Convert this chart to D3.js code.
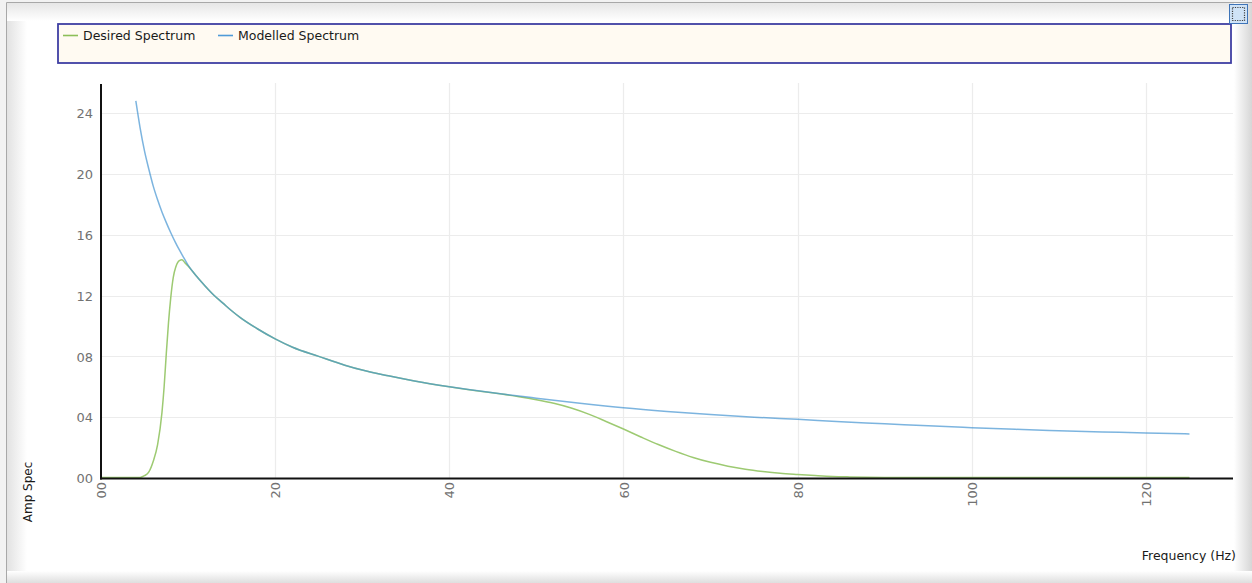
<!DOCTYPE html>
<html>
<head>
<meta charset="utf-8">
<script src="https://cdn.jsdelivr.net/npm/d3@7"></script>
<style>
html,body{margin:0;padding:0;background:#fff;}
svg{display:block;}
</style>
</head>
<body>
<svg id="chart" width="1252" height="583"></svg>
<script>
// ---- data ----
const seriesNames = ["Desired Spectrum", "Modelled Spectrum"];
const seriesColors = ["#9dca72", "#4594d1"];
const legendColors = ["#8cbf58", "#4f9bd8"];

const modelledFreq = [4,4.5,5,5.5,6,6.5,7,7.5,8,8.5,9,9.5,10,11,12,13,14,15,16,18,20,22,25,28,30,33,36,40,45,50,55,60,65,70,75,80,85,90,95,100,105,110,115,120,125];
const modelledAmp  = [24.8,23.0,21.5,20.3,19.2,18.3,17.5,16.8,16.15,15.55,15.0,14.5,14.0,13.25,12.6,12.0,11.5,11.0,10.55,9.8,9.15,8.6,8.0,7.42,7.1,6.72,6.38,6.0,5.6,5.25,4.92,4.62,4.38,4.18,4.0,3.86,3.7,3.57,3.43,3.31,3.2,3.11,3.03,2.96,2.9];

const desiredFreq = [0,1,2,3,4,4.5,5,5.5,6,6.5,7,7.25,7.5,7.75,8,8.3,8.6,9,9.3,9.65,10,11,12,13,14,15,16,18,20,22,25,28,30,33,36,40,44,46,48,50,52,54,56,58,60,62,64,66,68,70,72,74,76,78,80,82,84,86,88,90,100,110,120,125];
const desiredAmp  = [0.03,0.03,0.03,0.03,0.03,0.04,0.15,0.4,1.1,2.2,4.3,6.0,8.2,10.2,11.8,13.2,13.9,14.3,14.35,14.15,13.95,13.25,12.6,12.0,11.5,11.0,10.55,9.8,9.15,8.6,8.0,7.42,7.1,6.72,6.38,6.0,5.67,5.52,5.35,5.15,4.91,4.6,4.2,3.72,3.22,2.7,2.2,1.75,1.35,1.03,0.78,0.58,0.43,0.31,0.23,0.16,0.1,0.07,0.05,0.04,0.03,0.03,0.03,0.03];

const xTickValues = [0,20,40,60,80,100,120];
const xTickLabels = ["00","20","40","60","80","100","120"];
const yTickValues = [0,4,8,12,16,20,24];
const yTickLabels = ["00","04","08","12","16","20","24"];
const xTitle = "Frequency (Hz)";
const yTitle = "Amp Spec";

// ---- layout ----
const W = 1252, H = 583;
const svg = d3.select("#chart");
const defs = svg.append("defs");

function grad(id, x1, y1, x2, y2, stops) {
  const g = defs.append("linearGradient").attr("id", id)
    .attr("x1", x1).attr("y1", y1).attr("x2", x2).attr("y2", y2);
  stops.forEach(s => g.append("stop").attr("offset", s[0]).attr("stop-color", s[1]));
}
grad("gLeft", 0, 0, 1, 0, [[0, "#e2e2e2"], [1, "#ffffff"]]);
grad("gTop", 0, 0, 0, 1, [[0, "#e6e6e6"], [1, "#ffffff"]]);
grad("gRight", 0, 0, 1, 0, [[0, "#ffffff"], [1, "#d6d6d6"]]);
grad("gBottom", 0, 0, 0, 1, [[0, "#ffffff"], [1, "#dedede"]]);

// frame
svg.append("rect").attr("x", 0).attr("y", 0).attr("width", W).attr("height", H).attr("fill", "#f2f2f2");
svg.append("rect").attr("x", 7).attr("y", 3).attr("width", W - 7).attr("height", H - 3).attr("fill", "#ffffff");
svg.append("rect").attr("x", 7).attr("y", 3).attr("width", 20).attr("height", H - 3).attr("fill", "url(#gLeft)");
svg.append("rect").attr("x", 7).attr("y", 3).attr("width", W - 7).attr("height", 18).attr("fill", "url(#gTop)");
svg.append("rect").attr("x", 1234).attr("y", 3).attr("width", 18).attr("height", H - 3).attr("fill", "url(#gRight)");
svg.append("rect").attr("x", 7).attr("y", 571).attr("width", W - 7).attr("height", 12).attr("fill", "url(#gBottom)");
svg.append("line").attr("x1", 6.5).attr("x2", 6.5).attr("y1", 2.5).attr("y2", H).attr("stroke", "#a8a8a8");
svg.append("line").attr("x1", 6.5).attr("x2", W).attr("y1", 2.5).attr("y2", 2.5).attr("stroke", "#a8a8a8");

// legend box
svg.append("rect").attr("x", 58).attr("y", 24).attr("width", 1173).attr("height", 39)
  .attr("fill", "#fffaf2").attr("stroke", "#3f3fa3").attr("stroke-width", 1.8);

const legend = svg.append("g").attr("font-family", "DejaVu Sans, Verdana, sans-serif")
  .attr("font-size", "12.5px").attr("fill", "#1a1a1a");
const legendX = [63, 218];
seriesNames.forEach((n, i) => {
  legend.append("line").attr("x1", legendX[i]).attr("x2", legendX[i] + 15)
    .attr("y1", 35.5).attr("y2", 35.5).attr("stroke", legendColors[i]).attr("stroke-width", 1.6);
  legend.append("text").attr("x", legendX[i] + 20).attr("y", 40).text(n);
});

// icon top right
svg.append("rect").attr("x", 1229.5).attr("y", 4.5).attr("width", 18).attr("height", 19)
  .attr("fill", "#cfe3f7").attr("stroke", "#3e74b8").attr("stroke-width", 1);
svg.append("rect").attr("x", 1232.5).attr("y", 7.5).attr("width", 12).attr("height", 13)
  .attr("fill", "none").attr("stroke", "#444").attr("stroke-width", 1.2).attr("stroke-dasharray", "1.2,1.2");

// scales
const x = d3.scaleLinear().domain([0, 130]).range([101, 1233]);
const y = d3.scaleLinear().domain([0, 25.85]).range([478, 85]);

// grid
const grid = svg.append("g");
grid.selectAll("line.v").data(xTickValues.slice(1)).enter().append("line")
  .attr("x1", d => Math.round(x(d)) + 0.5).attr("x2", d => Math.round(x(d)) + 0.5)
  .attr("y1", 83).attr("y2", 478).attr("stroke", "#ececec").attr("stroke-width", 1.2);
grid.selectAll("line.h").data(yTickValues.slice(1)).enter().append("line")
  .attr("x1", 101).attr("x2", 1233)
  .attr("y1", d => Math.round(y(d)) + 0.5).attr("y2", d => Math.round(y(d)) + 0.5)
  .attr("stroke", "#ececec").attr("stroke-width", 1.2);

// axes (d3 axis for ticks/labels)
const xAxis = d3.axisBottom(x).tickValues(xTickValues).tickSize(0)
  .tickFormat((d, i) => xTickLabels[i]);
const yAxis = d3.axisLeft(y).tickValues(yTickValues).tickSize(0)
  .tickFormat((d, i) => yTickLabels[i]);

const gx = svg.append("g").attr("transform", "translate(0,478)").call(xAxis);
gx.select(".domain").remove();
gx.selectAll("text")
  .attr("font-family", "DejaVu Sans, Verdana, sans-serif").attr("font-size", "13px")
  .attr("fill", "#727272")
  .attr("text-anchor", "end")
  .attr("transform", "rotate(-90)")
  .attr("x", -4).attr("y", 0).attr("dy", "0.36em");

const gy = svg.append("g").attr("transform", "translate(101,0)").call(yAxis);
gy.select(".domain").remove();
gy.selectAll("text")
  .attr("font-family", "DejaVu Sans, Verdana, sans-serif").attr("font-size", "13px")
  .attr("fill", "#727272").attr("x", -8).attr("dy", "0.36em");

// series
const line = d3.line().x(d => x(d[0])).y(d => y(d[1])).curve(d3.curveMonotoneX);
const modelled = modelledFreq.map((f, i) => [f, modelledAmp[i]]);
const desired = desiredFreq.map((f, i) => [f, desiredAmp[i]]);

svg.append("path").datum(desired).attr("d", line).attr("fill", "none")
  .attr("stroke", seriesColors[0]).attr("stroke-width", 1.5);
svg.append("path").datum(modelled).attr("d", line).attr("fill", "none")
  .attr("stroke", seriesColors[1]).attr("stroke-width", 1.5).attr("stroke-opacity", 0.7);

// axis lines
svg.append("line").attr("x1", 101).attr("x2", 101).attr("y1", 84).attr("y2", 479.5)
  .attr("stroke", "#111").attr("stroke-width", 2);
svg.append("line").attr("x1", 100).attr("x2", 1233).attr("y1", 478.5).attr("y2", 478.5)
  .attr("stroke", "#111").attr("stroke-width", 2);

// titles
svg.append("text").attr("x", 1236).attr("y", 560).attr("text-anchor", "end")
  .attr("font-family", "DejaVu Sans, Verdana, sans-serif").attr("font-size", "12.5px")
  .attr("fill", "#1a1a1a").text(xTitle);
svg.append("text").attr("transform", "translate(32,492) rotate(-90)").attr("text-anchor", "middle")
  .attr("font-family", "DejaVu Sans, Verdana, sans-serif").attr("font-size", "12px")
  .attr("fill", "#1a1a1a").text(yTitle);
</script>
</body>
</html>
